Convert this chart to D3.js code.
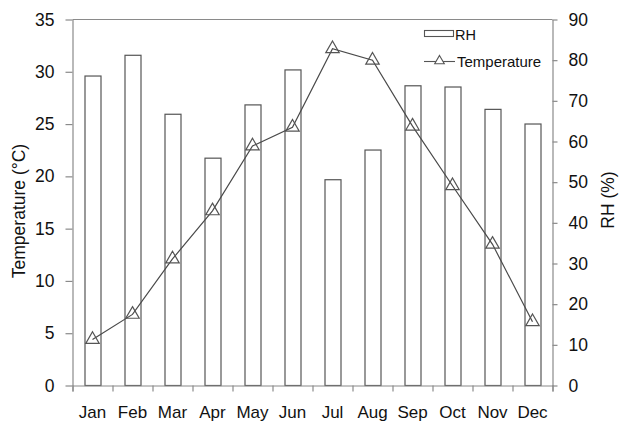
<!DOCTYPE html>
<html><head><meta charset="utf-8">
<script src="https://cdn.jsdelivr.net/npm/d3@7"></script>
<style>body{margin:0;background:#fff}svg{display:block}text{font-family:"Liberation Sans",Arial,sans-serif;fill:#111}</style>
</head><body><svg id="c" width="631" height="428"></svg>
<script>
const months = ["Jan","Feb","Mar","Apr","May","Jun","Jul","Aug","Sep","Oct","Nov","Dec"];
const rh = [76.1, 81.2, 66.7, 55.9, 69.0, 77.6, 50.6, 57.9, 73.7, 73.4, 67.9, 64.3];
const temperature = [4.4, 6.8, 12.1, 16.7, 22.9, 24.7, 32.2, 31.1, 24.8, 19.1, 13.5, 6.1];
const tempTicks = [0,5,10,15,20,25,30,35];
const rhTicks = [0,10,20,30,40,50,60,70,80,90];

const svg = d3.select("#c");
const L=72.5, R=552.5, T=19.5, B=385.5;
const axisCol="#8a8a8a", markCol="#555";
const x = d3.scaleBand().domain(months).range([L,R]).padding(0);
const yT = d3.scaleLinear().domain([0,35]).range([B,T]);
const yR = d3.scaleLinear().domain([0,90]).range([B,T]);

// bars
svg.append("g").selectAll("rect").data(rh).join("rect")
  .attr("x",(d,i)=>x(months[i])+x.bandwidth()/2-8+0.5)
  .attr("width",16)
  .attr("y",d=>yR(d))
  .attr("height",d=>B-yR(d))
  .attr("fill","#fff").attr("stroke",markCol).attr("stroke-width",1.2);

// top frame line
svg.append("line").attr("x1",L).attr("x2",R).attr("y1",T).attr("y2",T).attr("stroke",axisCol).attr("stroke-width",1.2);

function styleAxis(g, fs){
  g.selectAll(".domain").attr("stroke",axisCol).attr("stroke-width",1.2);
  g.selectAll(".tick line").attr("stroke",axisCol).attr("stroke-width",1.2);
  g.selectAll("text").style("font-size",fs).attr("fill","#111");
}
// bottom axis: ticks at band boundaries
const bx = d3.scaleLinear().domain([0,12]).range([L,R]);
svg.append("g").attr("transform",`translate(0,${B})`)
  .call(d3.axisBottom(bx).tickValues(d3.range(13)).tickFormat("").tickSizeOuter(0).tickSize(6))
  .call(g=>styleAxis(g,"17px"));
svg.append("g").selectAll("text").data(months).join("text")
  .attr("x",d=>x(d)+x.bandwidth()/2).attr("y",418)
  .attr("text-anchor","middle").style("font-size","17px").text(d=>d);

svg.append("g").attr("transform",`translate(${L},0)`)
  .call(d3.axisLeft(yT).tickValues(tempTicks).tickSize(7).tickSizeOuter(0).tickPadding(11))
  .call(g=>styleAxis(g,"17.5px"));
svg.append("g").attr("transform",`translate(${R},0)`)
  .call(d3.axisRight(yR).tickValues(rhTicks).tickSize(5).tickSizeOuter(0).tickPadding(11))
  .call(g=>styleAxis(g,"17.5px"));

// line
const line = d3.line().x((d,i)=>x(months[i])+x.bandwidth()/2).y(d=>yT(d));
svg.append("path").datum(temperature).attr("d",line).attr("fill","none").attr("stroke","#4a4a4a").attr("stroke-width",1.2);
const tri = d3.symbol().type(d3.symbolTriangle).size(78);
svg.append("g").selectAll("path").data(temperature).join("path")
  .attr("transform",(d,i)=>`translate(${x(months[i])+x.bandwidth()/2},${yT(d)})`)
  .attr("d",tri).attr("fill","none").attr("stroke",markCol).attr("stroke-width",1.2);

// axis titles
svg.append("text").attr("transform","translate(25,211) rotate(-90)").attr("text-anchor","middle").style("font-size","17.5px").text("Temperature (°C)");
svg.append("text").attr("transform","translate(614,200) rotate(-90)").attr("text-anchor","middle").style("font-size","17.5px").text("RH (%)");

// legend
const lg = svg.append("g");
lg.append("rect").attr("x",424.5).attr("y",30.5).attr("width",29).attr("height",6).attr("fill","#fff").attr("stroke",markCol).attr("stroke-width",1.1);
lg.append("text").attr("x",455).attr("y",39.5).style("font-size","14.5px").text("RH");
lg.append("line").attr("x1",424).attr("x2",455).attr("y1",61.5).attr("y2",61.5).attr("stroke",markCol).attr("stroke-width",1.1);
lg.append("path").attr("transform","translate(439.5,61)").attr("d",d3.symbol().type(d3.symbolTriangle).size(40)).attr("fill","#fff").attr("stroke",markCol).attr("stroke-width",1.1);
lg.append("text").attr("x",457).attr("y",67).style("font-size","15px").text("Temperature");
</script></body></html>
